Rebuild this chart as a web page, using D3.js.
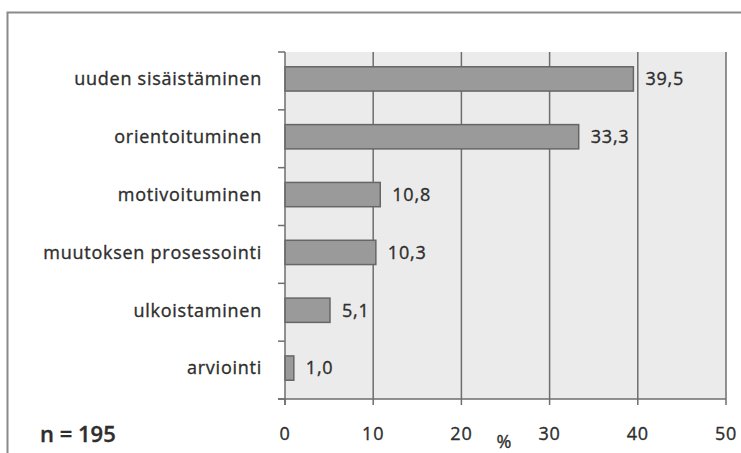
<!DOCTYPE html>
<html>
<head>
<meta charset="utf-8">
<script src="https://cdn.jsdelivr.net/npm/d3@7"></script>
<style>
  html, body { margin: 0; padding: 0; background: #fff; }
  svg { display: block; font-family: "Open Sans", sans-serif; }
  svg text { stroke: #2e2e2e; stroke-width: 0.35px; }
</style>
</head>
<body>
<svg id="chart" width="741" height="453"></svg>
<script>
// Categories (top to bottom) and their shares in percent
const categories = [
  "uuden sisäistäminen",
  "orientoituminen",
  "motivoituminen",
  "muutoksen prosessointi",
  "ulkoistaminen",
  "arviointi"
];
const values = [39.5, 33.3, 10.8, 10.3, 5.1, 1.0];
const xTicks = [0, 10, 20, 30, 40, 50];
const sampleLabel = "n = 195";
const unitLabel = "%";

const svg = d3.select("#chart");
const W = 741, H = 453;
const plot = { left: 285, right: 726, top: 52, bottom: 399 };
const textColor = "#2e2e2e";
const lineColor = "#6e6e6e";

const fmt = v => d3.format(".1f")(v).replace(".", ",");

// outer frame: left and top edges
svg.append("path")
  .attr("d", `M7.5,${H} L7.5,12.5 L${W},12.5`)
  .attr("fill", "none")
  .attr("stroke", "#8a8a8a")
  .attr("stroke-width", 2);

const x = d3.scaleLinear().domain([0, 50]).range([plot.left, plot.right]);
const y = d3.scaleBand().domain(categories).range([plot.top, plot.bottom]).paddingInner(0.58).paddingOuter(0.29);
const yOuter = d3.scaleBand().domain(categories).range([plot.top, plot.bottom]).padding(0);

// plot background
svg.append("rect")
  .attr("x", plot.left).attr("y", plot.top)
  .attr("width", plot.right - plot.left).attr("height", plot.bottom - plot.top)
  .attr("fill", "#ebebeb");

// vertical gridlines
svg.append("g").selectAll("line")
  .data(xTicks.filter(t => t > 0))
  .join("line")
  .attr("x1", d => x(d)).attr("x2", d => x(d))
  .attr("y1", plot.top).attr("y2", plot.bottom)
  .attr("stroke", lineColor).attr("stroke-width", 1.5);

// bars
svg.append("g").selectAll("rect")
  .data(values)
  .join("rect")
  .attr("x", x(0))
  .attr("y", (d, i) => y(categories[i]) - 2)
  .attr("width", d => x(d) - x(0))
  .attr("height", y.bandwidth())
  .attr("fill", "#9a9a9a")
  .attr("stroke", "#666")
  .attr("stroke-width", 1.5);

// value labels
svg.append("g").selectAll("text")
  .data(values)
  .join("text")
  .attr("x", d => x(d) + 12)
  .attr("y", (d, i) => y(categories[i]) - 2 + y.bandwidth() / 2)
  .attr("dy", "0.35em")
  .attr("font-size", 18)
  .attr("letter-spacing", 0.8)
  .attr("fill", textColor)
  .text(d => fmt(d));

// left axis: line and band-boundary ticks
const yAxis = svg.append("g").attr("stroke", lineColor).attr("stroke-width", 1.5);
yAxis.append("line")
  .attr("x1", plot.left).attr("x2", plot.left)
  .attr("y1", plot.top).attr("y2", plot.bottom + 6);
const bounds = categories.map(c => yOuter(c)).concat([plot.bottom]);
yAxis.selectAll("line.tick")
  .data(bounds)
  .join("line")
  .attr("class", "tick")
  .attr("x1", plot.left - 7).attr("x2", plot.left)
  .attr("y1", d => d).attr("y2", d => d);

// category labels
svg.append("g").selectAll("text")
  .data(categories)
  .join("text")
  .attr("x", 262)
  .attr("y", d => y(d) - 2 + y.bandwidth() / 2)
  .attr("dy", "0.35em")
  .attr("text-anchor", "end")
  .attr("font-size", 18)
  .attr("letter-spacing", 0.75)
  .attr("fill", textColor)
  .text(d => d);

// bottom axis
const xAxis = svg.append("g").attr("stroke", lineColor).attr("stroke-width", 1.5);
xAxis.append("line")
  .attr("x1", plot.left - 7).attr("x2", plot.right)
  .attr("y1", plot.bottom).attr("y2", plot.bottom);
xAxis.selectAll("line.tick")
  .data(xTicks)
  .join("line")
  .attr("class", "tick")
  .attr("x1", d => x(d)).attr("x2", d => x(d))
  .attr("y1", plot.bottom).attr("y2", plot.bottom + 6);

svg.append("g").selectAll("text")
  .data(xTicks)
  .join("text")
  .attr("x", d => x(d))
  .attr("y", 434)
  .attr("dy", "0.35em")
  .attr("text-anchor", "middle")
  .attr("font-size", 18)
  .attr("letter-spacing", 0.8)
  .attr("fill", textColor)
  .text(d => d);

svg.append("text")
  .attr("x", 504).attr("y", 442)
  .attr("dy", "0.35em")
  .attr("text-anchor", "middle")
  .attr("font-size", 18)
  .attr("fill", textColor)
  .text(unitLabel);

svg.append("text")
  .attr("x", 40).attr("y", 434)
  .attr("dy", "0.35em")
  .attr("font-size", 22)
  .attr("font-weight", 600)
  .attr("fill", textColor)
  .text(sampleLabel);
</script>
</body>
</html>
